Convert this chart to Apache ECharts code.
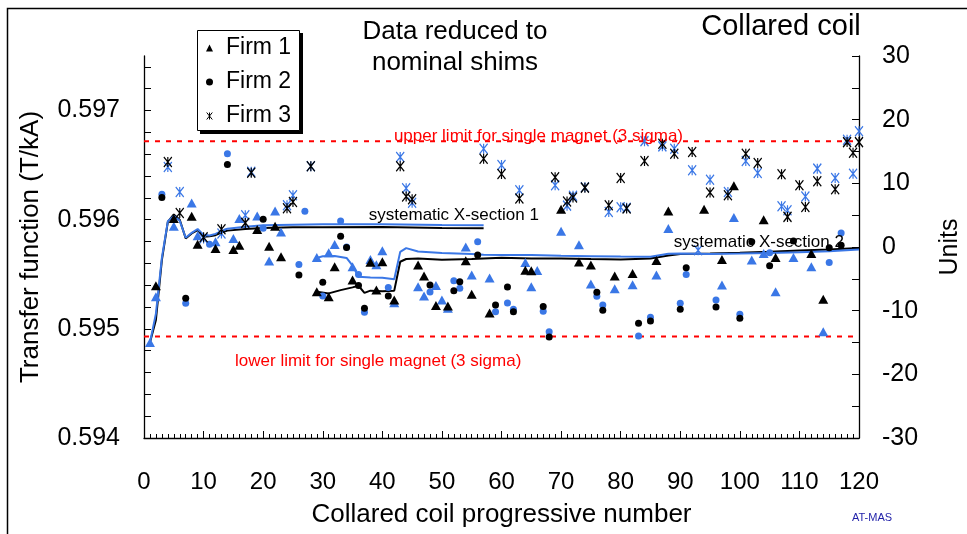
<!DOCTYPE html>
<html>
<head>
<meta charset="utf-8">
<title>Collared coil transfer function</title>
<script src="https://cdn.jsdelivr.net/npm/echarts@6/dist/echarts.min.js"></script>
<style>
  html, body { margin: 0; padding: 0; background: #fff; }
  #chart { width: 967px; height: 534px; }
</style>
</head>
<body>
<div id="chart"></div>
<script>
// ---- data: [coil number, transfer function T/kA] ----
const firm1Black = [[2,0.595395],[5,0.596011],[8,0.596032],[9,0.595776],[12,0.595737],[15,0.595728],[16,0.595767],[19,0.595910],[21,0.595758],[22,0.595941],[23,0.595660],[29,0.595340],[31,0.595294],[32,0.595569],[35,0.595447],[38,0.595610],[39,0.595356],[40,0.595614],[42,0.595264],[46,0.595584],[47,0.595484],[49,0.595215],[51,0.595209],[54,0.595625],[55,0.595316],[58,0.595145],[64,0.595538],[65,0.595532],[70,0.596096],[73,0.595612],[75,0.595584],[79,0.595484],[82,0.595508],[86,0.595627],[88,0.596080],[94,0.596096],[97,0.595636],[99,0.596311],[104,0.596000],[106,0.595654],[112,0.595691],[114,0.595271]];
const firm1Blue = [[1,0.594874],[2,0.595294],[5,0.595941],[8,0.596154],[9,0.595852],[12,0.595797],[15,0.595828],[16,0.596011],[19,0.596035],[21,0.595621],[22,0.596080],[23,0.595888],[29,0.595654],[31,0.595697],[32,0.595773],[35,0.595569],[38,0.595636],[39,0.595587],[40,0.595715],[42,0.595239],[46,0.595386],[47,0.595301],[49,0.595398],[50,0.595264],[51,0.595188],[54,0.595751],[55,0.595493],[58,0.595466],[64,0.595609],[65,0.595386],[66,0.595534],[70,0.595895],[73,0.595770],[75,0.595410],[79,0.595367],[82,0.595405],[86,0.595493],[88,0.595920],[97,0.595401],[99,0.596020],[102,0.595630],[104,0.595691],[106,0.595340],[109,0.595654],[112,0.595569],[114,0.594974]];
const firm2Black = [[3,0.596203],[7,0.595280],[14,0.596505],[20,0.596005],[26,0.595493],[30,0.595426],[33,0.595849],[34,0.595745],[36,0.595397],[37,0.595188],[41,0.595301],[48,0.595401],[52,0.595349],[53,0.595431],[56,0.595676],[59,0.595218],[61,0.595383],[62,0.595157],[67,0.595205],[68,0.594926],[76,0.595335],[77,0.595170],[83,0.595051],[85,0.595072],[90,0.595179],[91,0.595559],[96,0.595200],[100,0.595097],[102,0.595797],[105,0.595578],[109,0.595806],[115,0.595742],[117,0.595767]];
const firm2Blue = [[3,0.596233],[7,0.595234],[11,0.595776],[14,0.596605],[20,0.595922],[26,0.595590],[27,0.596078],[30,0.595301],[33,0.595989],[34,0.595749],[36,0.595497],[37,0.595152],[41,0.595380],[48,0.595337],[52,0.595441],[53,0.595371],[56,0.595797],[59,0.595157],[61,0.595237],[62,0.595179],[67,0.595161],[68,0.594974],[76,0.595298],[77,0.595218],[83,0.594935],[85,0.595106],[90,0.595234],[91,0.595499],[96,0.595264],[100,0.595133],[105,0.595697],[115,0.595609],[117,0.595879]];
const firm3Black = [[4,0.596528],[6,0.596062],[10,0.595840],[13,0.595913],[17,0.595971],[18,0.596431],[24,0.596105],[25,0.596163],[28,0.596489],[43,0.596489],[44,0.596212],[45,0.596187],[57,0.596559],[60,0.596418],[63,0.596194],[69,0.596389],[71,0.596166],[72,0.596204],[74,0.596294],[78,0.596133],[80,0.596382],[81,0.596102],[84,0.596537],[87,0.596697],[89,0.596605],[92,0.596620],[95,0.596249],[98,0.596224],[101,0.596605],[103,0.596519],[107,0.596416],[108,0.596026],[110,0.596315],[111,0.596117],[113,0.596352],[116,0.596279],[118,0.596711],[119,0.596614],[120,0.596711]];
const firm3Blue = [[4,0.596483],[6,0.596254],[10,0.595828],[13,0.595874],[17,0.596041],[18,0.596439],[24,0.596133],[25,0.596224],[28,0.596489],[43,0.596574],[44,0.596288],[45,0.596156],[57,0.596651],[60,0.596502],[63,0.596270],[69,0.596315],[71,0.596129],[72,0.596219],[74,0.596297],[78,0.596071],[80,0.596114],[81,0.596110],[84,0.596720],[87,0.596672],[89,0.596651],[92,0.596453],[93,0.595721],[95,0.596367],[98,0.596254],[101,0.596537],[103,0.596428],[107,0.596123],[108,0.596087],[111,0.596212],[113,0.596468],[116,0.596382],[118,0.596733],[119,0.596422],[120,0.596811]];

// running systematic averages per cross-section
const sys1Black = [[1,0.594874],[2,0.595082],[3,0.595630],[4,0.595980],[5,0.596048],[6,0.596000],[7,0.595829],[8,0.595874],[9,0.595904],[10,0.595843],[11,0.595849],[12,0.595858],[13,0.595883],[14,0.595900],[17,0.595915],[20,0.595925],[25,0.595930],[30,0.595932],[40,0.595933],[50,0.595925],[57,0.595922]];
const sys1Blue = [[1,0.594874],[2,0.595140],[3,0.595650],[4,0.595985],[5,0.596035],[6,0.595990],[7,0.595835],[8,0.595880],[9,0.595915],[10,0.595860],[11,0.595855],[12,0.595870],[13,0.595895],[14,0.595918],[17,0.595935],[20,0.595950],[25,0.595955],[30,0.595958],[40,0.595958],[50,0.595952],[57,0.595950]];
const sys2Black = [[29,0.595340],[31,0.595325],[33,0.595355],[35,0.595380],[36,0.595395],[37,0.595330],[38,0.595350],[40,0.595345],[42,0.595350],[43,0.595615],[44,0.595640],[46,0.595645],[50,0.595634],[55,0.595640],[60,0.595651],[65,0.595645],[70,0.595645],[75,0.595640],[80,0.595636],[85,0.595645],[88,0.595672],[90,0.595686],[95,0.595690],[100,0.595697],[105,0.595707],[110,0.595718],[115,0.595728],[120,0.595740]];
const sys2Blue = [[29,0.595650],[30,0.595666],[32,0.595668],[34,0.595650],[35,0.595580],[36,0.595478],[38,0.595470],[40,0.595468],[42,0.595455],[43,0.595705],[44,0.595740],[46,0.595708],[50,0.595696],[55,0.595685],[57,0.595678],[60,0.595676],[65,0.595676],[70,0.595670],[75,0.595666],[80,0.595662],[85,0.595660],[88,0.595688],[90,0.595690],[95,0.595686],[100,0.595690],[105,0.595695],[110,0.595703],[115,0.595712],[120,0.595726]];

// single-magnet 3 sigma limits (T/kA)
const upperLimit = 0.596720;
const lowerLimit = 0.594929;

// axis ticks and labels
const leftLabelValues = [0.594, 0.595, 0.596, 0.597];
const leftTickValues = [0.5942,0.5944,0.5946,0.5948,0.595,0.5952,0.5954,0.5956,0.5958,0.596,0.5962,0.5964,0.5966,0.5968,0.597,0.5972,0.5974];
const rightLabelValues = [-30, -20, -10, 0, 10, 20, 30];

const FONT = '"Liberation Sans", Arial, Helvetica, sans-serif';
const BLUE = '#3a77e6';
const BLACK = '#000000';
const RED = '#ff0000';
const STAR = 'path://M0,0L8,10M8,0L0,10M4,0L4,10';

function scatter(name, data, symbol, size, color) {
  const s = {
    type: 'scatter', name, data, symbol, symbolSize: size,
    itemStyle: { color, opacity: 1 },
    emphasis: { disabled: true }, z: 4, silent: true
  };
  if (symbol === STAR) {
    s.itemStyle.borderColor = color;
    s.itemStyle.borderWidth = 1.3;
  }
  return s;
}

function line(name, data, color, width, type) {
  return {
    type: 'line', name, data, symbol: 'none', silent: true, z: 3,
    lineStyle: { color, width, type: type || 'solid' },
    emphasis: { disabled: true }
  };
}

const axisLine = { show: true, onZero: false, lineStyle: { color: BLACK, width: 1.3 } };
const tickStyle = { color: BLACK, width: 1 };

const chart = echarts.init(document.getElementById('chart'), null, { renderer: 'canvas' });

const option = {
  animation: false,
  backgroundColor: '#ffffff',
  textStyle: { fontFamily: FONT },
  grid: { left: 144, right: 108, top: 56, bottom: 96, containLabel: false, outerBoundsMode: 'none' },
  legend: {
    left: 197, top: 30, orient: 'vertical', z: 20,
    data: [
      { name: 'Firm 1', icon: 'triangle' },
      { name: 'Firm 2', icon: 'circle' },
      { name: 'Firm 3', icon: STAR, itemStyle: { borderWidth: 1, borderColor: BLACK } }
    ],
    itemWidth: 7, itemHeight: 7, itemGap: 10,
    padding: [6, 8, 3, 9],
    backgroundColor: 'transparent', borderWidth: 0,
    selectedMode: false,
    textStyle: { fontSize: 23, color: BLACK, fontFamily: FONT, lineHeight: 24, padding: [0, 0, 0, 8] }
  },
  xAxis: {
    type: 'value', min: 0, max: 120, interval: 10, position: 'bottom',
    axisLine,
    axisTick: { show: true, inside: true, length: 7, lineStyle: tickStyle },
    minorTick: { show: true, splitNumber: 10, length: 4, lineStyle: tickStyle },
    splitLine: { show: false }, minorSplitLine: { show: false },
    axisLabel: { fontSize: 24, color: BLACK, margin: 32, fontFamily: FONT },
    name: 'Collared coil progressive number', nameLocation: 'middle', nameGap: 64,
    nameTextStyle: { fontSize: 26, color: BLACK, fontFamily: FONT }
  },
  yAxis: [
    {
      type: 'value', min: 0.594, max: 0.5975, position: 'left',
      axisLine,
      axisTick: { show: true, inside: true, length: 7, lineStyle: tickStyle, customValues: leftTickValues },
      axisLabel: {
        customValues: leftLabelValues, formatter: v => v.toFixed(3),
        fontSize: 25, color: BLACK, margin: 24, fontFamily: FONT, padding: [12, 0, 0, 0]
      },
      splitLine: { show: false },
      name: 'Transfer function (T/kA)', nameLocation: 'middle', nameGap: 100,
      nameTextStyle: { fontSize: 26, color: BLACK, fontFamily: FONT }
    },
    {
      type: 'value', min: -30, max: 30, interval: 5, position: 'right',
      axisLine,
      axisTick: { show: true, inside: true, length: 7, lineStyle: tickStyle },
      axisLabel: {
        customValues: rightLabelValues, fontSize: 25, color: BLACK, margin: 23,
        align: 'left', fontFamily: FONT, padding: [12, 0, 0, 0]
      },
      splitLine: { show: false },
      name: 'Units', nameLocation: 'middle', nameGap: 79,
      nameTextStyle: { fontSize: 25, color: BLACK, fontFamily: FONT }
    }
  ],
  series: [
    line('Upper limit', [[0, upperLimit], [120, upperLimit]], RED, 2, [5, 6]),
    line('Lower limit', [[0, lowerLimit], [120, lowerLimit]], RED, 2, [5, 6]),
    line('Systematic X-section 1', sys1Black, BLACK, 2),
    line('Systematic X-section 1 (nominal shims)', sys1Blue, BLUE, 2),
    line('Systematic X-section 2', sys2Black, BLACK, 2),
    line('Systematic X-section 2 (nominal shims)', sys2Blue, BLUE, 2),
    scatter('Firm 1 (nominal shims)', firm1Blue, 'triangle', [10, 9], BLUE),
    scatter('Firm 2 (nominal shims)', firm2Blue, 'circle', 7, BLUE),
    scatter('Firm 3 (nominal shims)', firm3Blue, STAR, [8, 10], BLUE),
    scatter('Firm 1', firm1Black, 'triangle', [10, 9], BLACK),
    scatter('Firm 2', firm2Black, 'circle', 7, BLACK),
    scatter('Firm 3', firm3Black, STAR, [8, 10], BLACK)
  ]
};

chart.setOption(option);

// text annotations anchored in data space (coil number, T/kA), with pixel nudges
const annotations = [
  { text: 'upper limit for single magnet (3 sigma)', at: [66.2, upperLimit], dy: -5, color: RED, size: 17 },
  { text: 'lower limit for single magnet (3 sigma)', at: [39.3, lowerLimit], dy: 25, color: RED, size: 17 },
  { text: 'systematic X-section 1', at: [52.0, 0.595922], dy: -13, color: BLACK, size: 17 },
  { text: 'systematic X-section 2', at: [103.2, 0.595697], dy: -10, color: BLACK, size: 17 }
];

const graphics = annotations.map(a => {
  const p = chart.convertToPixel({ seriesIndex: 0 }, a.at);
  return {
    type: 'text', x: p[0], y: p[1] + a.dy, z: 10, silent: true,
    style: { text: a.text, fill: a.color, font: a.size + 'px ' + FONT, textAlign: 'center', textVerticalAlign: 'middle' }
  };
});

// figure frame, legend box with drop shadow, titles and tag
graphics.push(
  { type: 'rect', shape: { x: 7.5, y: 8.5, width: 1000, height: 600 }, silent: true, z: 0,
    style: { fill: 'none', stroke: BLACK, lineWidth: 1.5 } },
  { type: 'rect', shape: { x: 200, y: 33, width: 103, height: 101 }, silent: true, z: 14,
    style: { fill: BLACK } },
  { type: 'rect', shape: { x: 197.5, y: 30.5, width: 102, height: 100 }, silent: true, z: 15,
    style: { fill: '#ffffff', stroke: BLACK, lineWidth: 1 } },
  { type: 'text', x: 455, y: 32, silent: true,
    style: { text: 'Data reduced to', fill: BLACK, font: '26px ' + FONT, textAlign: 'center', textVerticalAlign: 'middle' } },
  { type: 'text', x: 455, y: 63, silent: true,
    style: { text: 'nominal shims', fill: BLACK, font: '26px ' + FONT, textAlign: 'center', textVerticalAlign: 'middle' } },
  { type: 'text', x: 781, y: 27, silent: true,
    style: { text: 'Collared coil', fill: BLACK, font: '29px ' + FONT, textAlign: 'center', textVerticalAlign: 'middle' } },
  { type: 'text', x: 872, y: 518, silent: true,
    style: { text: 'AT-MAS', fill: '#1f1fa8', font: '11px ' + FONT, textAlign: 'center', textVerticalAlign: 'middle' } }
);

chart.setOption({ graphic: graphics });
</script>
</body>
</html>
